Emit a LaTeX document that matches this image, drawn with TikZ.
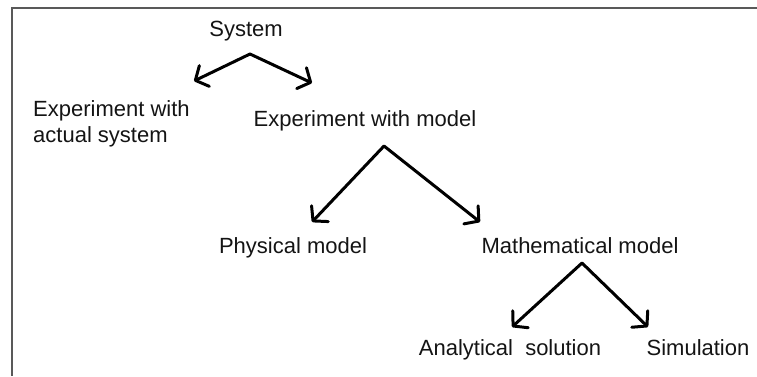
\documentclass[tikz,border=0pt]{standalone}
\usepackage{fontspec}
\setmainfont{Liberation Sans}
\usetikzlibrary{arrows.meta}

\tikzset{
  label/.style={inner sep=0pt,text=black!92,font=\fontsize{22}{26}\selectfont},
  branch/.style={{Straight Barb[length=10pt,width=23pt,round]}-{Straight Barb[length=10pt,width=23pt,round]},
    line width=3pt,line cap=round,line join=round},
}

\begin{document}
\begin{tikzpicture}[x=1pt,y=-1pt]
  \useasboundingbox (0,0) rectangle (757,376);

  % Frame (cut off at right and bottom)
  \draw[line width=1.4pt,black!65] (757,8) -- (12,8) -- (12,376);

  % Labels
  \node[label,anchor=base] (sys) at (246,36) {System};
  \node[label,anchor=north west,align=left] (act) at (33,100) {Experiment with\\actual system};
  \node[label,anchor=base] (mod) at (365,126) {Experiment with model};
  \node[label,anchor=base] (phys) at (293,253) {Physical model};
  \node[label,anchor=base] (math) at (580,253) {Mathematical model};
  \node[label,anchor=base] (anal) at (510,355) {Analytical\ \ solution};
  \node[label,anchor=base] (simu) at (698,355) {Simulation};

  % Branch points
  \coordinate (sysV) at (250,54);
  \coordinate (actT) at (194,81);
  \coordinate (modT) at (312,83);
  \coordinate (modV) at (384,146);
  \coordinate (physT) at (312,222);
  \coordinate (mathT) at (480,222);
  \coordinate (mathV) at (582,263);
  \coordinate (analT) at (512,327);
  \coordinate (simuT) at (648,327);

  % Arrows
  \draw[branch] (actT) -- (sysV) -- (modT);
  \draw[branch] (physT) -- (modV) -- (mathT);
  \draw[branch] (analT) -- (mathV) -- (simuT);
\end{tikzpicture}
\end{document}
